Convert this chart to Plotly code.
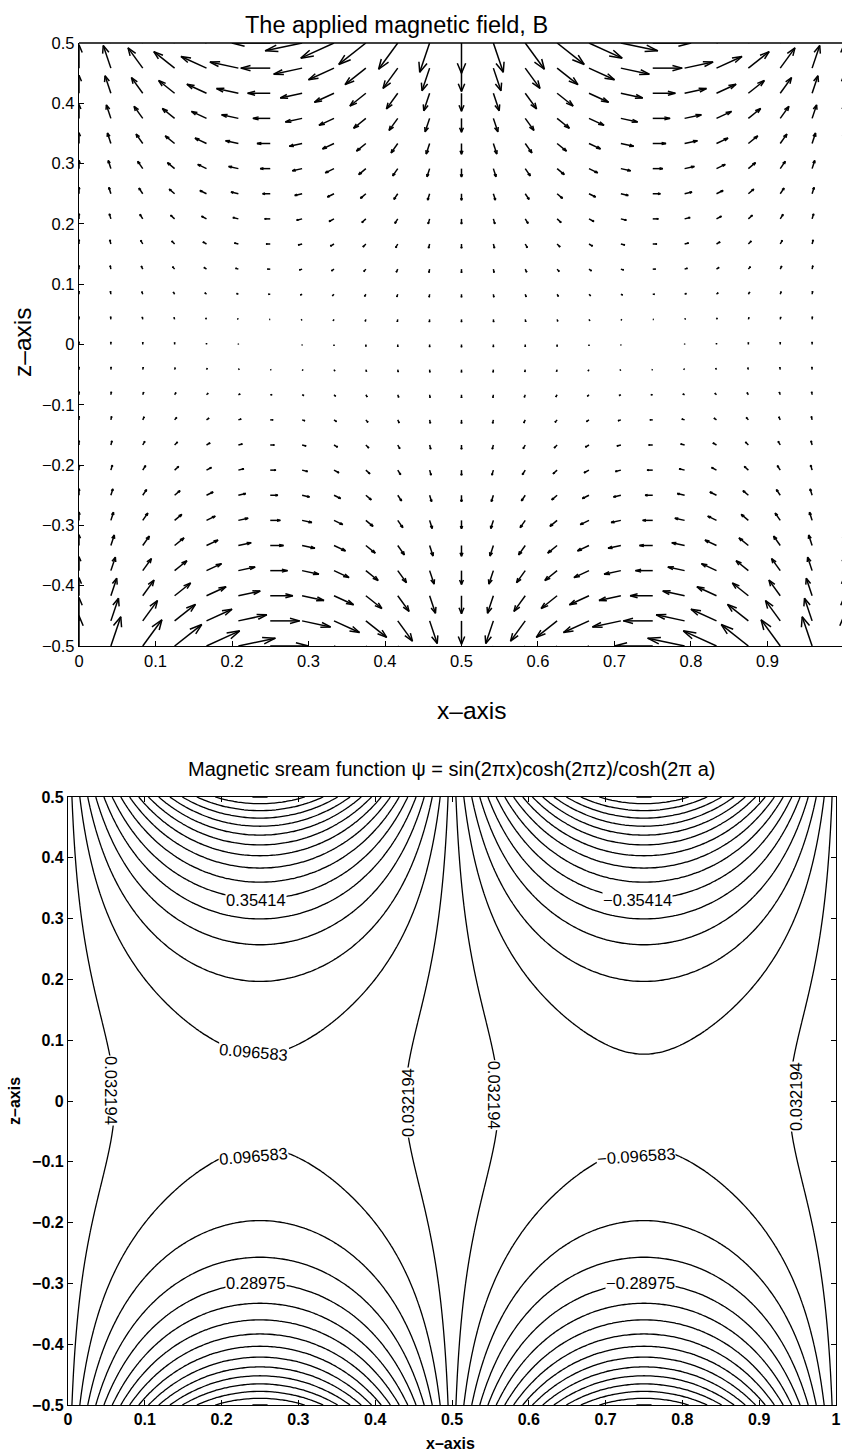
import numpy as np
import plotly.graph_objects as go
import plotly.figure_factory as ff

# Stream function psi = sin(2*pi*x) cosh(2*pi*z) / cosh(2*pi*a), with a = 0.5
A_PARAM = 0.5

# Quiver sampling grid (25 x 25 points over the unit cell)
N_QUIVER = 25
QUIVER_SCALE = 0.0080

# Fine grid for the contour plot
N_CONTOUR = 241

# Contour levels (32 evenly spaced levels)
LEVEL_START = -0.998014
LEVEL_STEP = 0.064388
LEVEL_END = 0.998014

# Tick labels
TOP_X_TICKS = [0, 0.1, 0.2, 0.3, 0.4, 0.5, 0.6, 0.7, 0.8, 0.9]
BOT_X_TICKS = [0, 0.1, 0.2, 0.3, 0.4, 0.5, 0.6, 0.7, 0.8, 0.9, 1]
Z_TICKS = [-0.5, -0.4, -0.3, -0.2, -0.1, 0, 0.1, 0.2, 0.3, 0.4, 0.5]

# Inline contour labels: text, x, z, rotation
LABEL_TEXT = ["0.35414", "−0.35414", "0.096583", "0.096583", "−0.096583",
              "0.032194", "0.032194", "0.032194", "0.032194",
              "0.28975", "−0.28975"]
LABEL_X = [0.245, 0.742, 0.242, 0.242, 0.740, 0.056, 0.443, 0.555, 0.947, 0.245, 0.745]
LABEL_Z = [0.331, 0.331, 0.080, -0.090, -0.090, 0.018, -0.003, 0.010, 0.007, -0.300, -0.300]
LABEL_ANGLE = [0, 0, 5, -5, -4, 90, -90, 90, -90, 0, 0]

FONT = "Liberation Sans, Arial, Helvetica, sans-serif"


def psi(x, z):
    return np.sin(2 * np.pi * x) * np.cosh(2 * np.pi * z) / np.cosh(2 * np.pi * A_PARAM)


def field(x, z):
    # B = (-dpsi/dz, dpsi/dx)
    c = np.cosh(2 * np.pi * A_PARAM)
    bx = -np.sin(2 * np.pi * x) * 2 * np.pi * np.sinh(2 * np.pi * z) / c
    bz = 2 * np.pi * np.cos(2 * np.pi * x) * np.cosh(2 * np.pi * z) / c
    return bx, bz


# ---- quiver of the applied field ----
qx1 = np.linspace(0, 1, N_QUIVER)
qz1 = np.linspace(-0.5, 0.5, N_QUIVER)
QX, QZ = np.meshgrid(qx1, qz1)
BX, BZ = field(QX, QZ)
quiv = ff.create_quiver(QX, QZ, BX, BZ, scale=QUIVER_SCALE,
                        arrow_scale=0.3475, angle=0.3187,
                        line=dict(color="black", width=1.5))

# ---- contour of psi ----
cx = np.linspace(0, 1, N_CONTOUR)
cz = np.linspace(-0.5, 0.5, N_CONTOUR)
CX, CZ = np.meshgrid(cx, cz)
PSI = psi(CX, CZ)

fig = go.Figure()
qt = quiv.data[0]
fig.add_trace(go.Scatter(x=qt.x, y=qt.y, mode="lines",
                         line=dict(color="black", width=1.5),
                         hoverinfo="skip", showlegend=False,
                         xaxis="x", yaxis="y"))
fig.add_trace(go.Contour(x=cx, z=PSI, y=cz, xaxis="x2", yaxis="y2",
                         contours=dict(start=LEVEL_START, end=LEVEL_END + 1e-6,
                                       size=LEVEL_STEP, coloring="lines",
                                       showlabels=False),
                         colorscale=[[0, "black"], [1, "black"]],
                         line=dict(width=1.3), showscale=False,
                         hoverinfo="skip"))

W, H = 842, 1452


def px_x(p):
    return p / W


def px_y(p):
    return 1 - p / H


axis_common = dict(showgrid=False, zeroline=False, showline=True, linecolor="black",
                   linewidth=1.3, ticks="inside", ticklen=5, tickcolor="black",
                   tickwidth=1.1, automargin=False, ticklabeloverflow="allow")

fig.update_layout(
    width=W, height=H, margin=dict(l=0, r=0, t=0, b=0, autoexpand=False),
    paper_bgcolor="white", plot_bgcolor="white", showlegend=False,
    xaxis=dict(axis_common, domain=[px_x(79), 1.0], range=[0, 0.9974],
               tickvals=TOP_X_TICKS, ticktext=[str(v) if v else "0" for v in TOP_X_TICKS],
               tickfont=dict(family=FONT, size=16.5, color="black"),
               anchor="y", mirror=False),
    yaxis=dict(axis_common, domain=[px_y(646), px_y(43)], range=[-0.5, 0.5],
               tickvals=Z_TICKS, tickfont=dict(family=FONT, size=16.5, color="black"),
               anchor="x", mirror=False),
    xaxis2=dict(axis_common, domain=[px_x(68), px_x(836)], range=[0, 1],
                tickvals=BOT_X_TICKS,
                tickfont=dict(family=FONT, size=16, color="black", weight="bold"),
                anchor="y2", mirror="ticks"),
    yaxis2=dict(axis_common, domain=[px_y(1405), px_y(797)], range=[-0.5, 0.5],
                tickvals=Z_TICKS,
                tickfont=dict(family=FONT, size=16, color="black", weight="bold"),
                anchor="x2", mirror="ticks"),
)

# top line of the first panel (left and bottom are the axis lines)
fig.add_shape(type="line", xref="x domain", yref="y domain", x0=0, x1=1, y0=1, y1=1,
              line=dict(color="black", width=1.3))

ann = []


def paper_text(text, xp, yp, size, angle=0):
    return dict(text=text, x=px_x(xp), y=px_y(yp), xref="paper", yref="paper",
                xanchor="center", yanchor="middle", showarrow=False, textangle=angle,
                font=dict(family=FONT, size=size, color="black"))


ann.append(paper_text("The applied magnetic field, B", 396, 25, 23.5))
ann.append(paper_text("x–axis", 471, 710, 24.5))
ann.append(paper_text("z–axis", 23, 343, 24.5, -90))
ann.append(paper_text("Magnetic sream function ψ = sin(2πx)cosh(2πz)/cosh(2π a)", 452, 769, 20))
ann.append(paper_text("<b>x–axis</b>", 450, 1443, 16))
ann.append(paper_text("<b>z–axis</b>", 14, 1101, 16, -90))

for t, lx, lz, ang in zip(LABEL_TEXT, LABEL_X, LABEL_Z, LABEL_ANGLE):
    ann.append(dict(text=t, x=lx, y=lz, xref="x2", yref="y2", showarrow=False,
                    xanchor="center", yanchor="middle",
                    textangle=ang, bgcolor="white", borderpad=0,
                    font=dict(family=FONT, size=16.5, color="black")))

fig.update_layout(annotations=ann)

fig.write_html("out.html")
